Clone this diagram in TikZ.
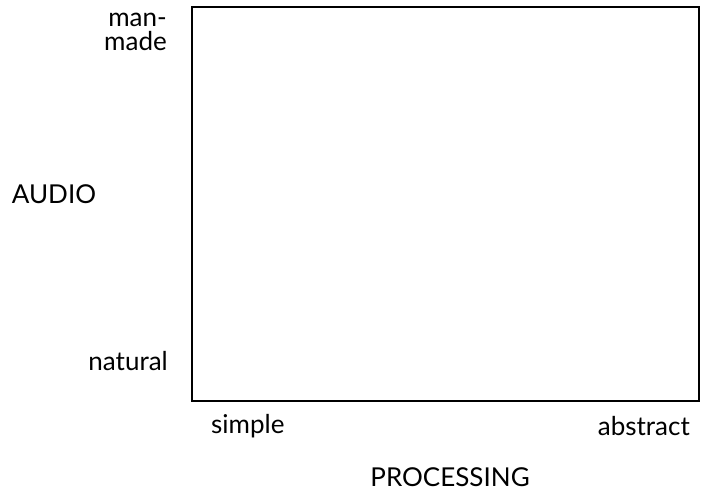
\documentclass[tikz,border=0pt]{standalone}
\usepackage{fontspec}
\setmainfont{Lato}
\usepackage{tikz}
\usetikzlibrary{positioning}
\definecolor{inkblack}{RGB}{0,0,0}

\begin{document}
\begin{tikzpicture}[x=1pt,y=-1pt,
    axislabel/.style={font=\fontsize{26}{26}\selectfont,text=inkblack,inner sep=0pt},
    endlabel/.style={font=\fontsize{26}{24}\selectfont,text=inkblack,inner sep=0pt}]
        \useasboundingbox (0,0) rectangle (702,493);
        \draw[inkblack,line width=2pt] (192,7) rectangle (699,401);
        \node[endlabel,align=right,anchor=east] (manmade) at (167,32) {man-\\made};
        \node[endlabel,anchor=east] (natural) at (168,361) {natural};
        \node[axislabel] (audio) at (54,194) {AUDIO};
        \node[endlabel,anchor=west] (simple) at (211,426) {simple};
        \node[endlabel,anchor=east] (abstract) at (690,426) {abstract};
        \node[axislabel] (processing) at (450,477) {PROCESSING};
      \end{tikzpicture}
\end{document}
